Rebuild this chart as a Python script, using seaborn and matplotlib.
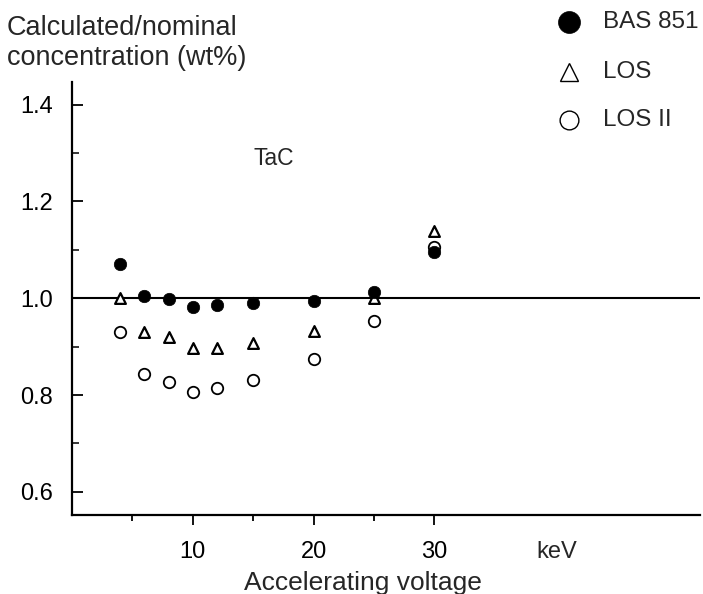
import matplotlib
matplotlib.use("Agg")
import matplotlib.pyplot as plt
import matplotlib.transforms as mtransforms
from matplotlib.lines import Line2D
import seaborn as sns
import pandas as pd

voltage = [4, 6, 8, 10, 12, 15, 20, 25, 30]
bas851 = [1.071, 1.005, 0.999, 0.982, 0.986, 0.990, 0.995, 1.013, 1.095]
los = [1.000, 0.931, 0.920, 0.897, 0.898, 0.907, 0.932, 1.000, 1.140]
los2 = [0.930, 0.844, 0.826, 0.806, 0.815, 0.831, 0.875, 0.952, 1.106]
series_names = ["BAS 851", "LOS", "LOS II"]
x_tick_labels = ["10", "20", "30", "keV"]
y_ticks = [0.6, 0.8, 1.0, 1.2, 1.4]

df = pd.DataFrame({
    "voltage": voltage * 3,
    "ratio": bas851 + los + los2,
    "series": [series_names[0]] * 9 + [series_names[1]] * 9 + [series_names[2]] * 9,
})

sns.set_theme(style="ticks")
plt.rcParams["font.family"] = ["Liberation Sans", "DejaVu Sans"]

fig = plt.figure(figsize=(7.03, 5.94), dpi=100)
ax = fig.add_axes([72 / 703, 1 - 515 / 594, (700 - 72) / 703, (515 - 82) / 594])

styles = {
    "BAS 851": dict(marker="o", s=80, color="black", edgecolor="black", linewidth=0.5),
    "LOS": dict(marker="^", s=60, color="white", edgecolor="black", linewidth=1.6),
    "LOS II": dict(marker="o", s=68, color="white", edgecolor="black", linewidth=1.3),
}
ax.axhline(1.0, color="black", linewidth=1.5, zorder=1)
for name in ["LOS II", "LOS", "BAS 851"]:
    sub = df[df["series"] == name]
    sns.scatterplot(data=sub, x="voltage", y="ratio", ax=ax, legend=False, zorder=3, **styles[name])

ax.set_xlim(0, 52)
ax.set_ylim(0.552, 1.447)
ax.set_xlabel("")
ax.set_ylabel("")
sns.despine(ax=ax)
for sp in ["left", "bottom"]:
    ax.spines[sp].set_linewidth(1.6)
    ax.spines[sp].set_color("black")

ax.set_xticks([10, 20, 30])
ax.set_xticklabels(x_tick_labels[:3])
ax.set_xticks([5, 15, 25], minor=True)
ax.tick_params(axis="x", which="major", direction="out", length=7, width=1.3, pad=12, labelsize=17, colors="black")
ax.tick_params(axis="x", which="minor", direction="out", length=4, width=1.3, colors="black")
ax.set_yticks(y_ticks)
ax.set_yticklabels([f"{v:.1f}" for v in y_ticks])
ax.set_yticks([0.7, 0.9, 1.1, 1.3], minor=True)
ax.tick_params(axis="y", which="major", direction="in", length=8, width=1.3, pad=14, labelsize=17, colors="black")
ax.tick_params(axis="y", which="minor", direction="in", length=5, width=1.3)

trans = mtransforms.blended_transform_factory(ax.transData, fig.transFigure)
ax.text(40.1, 1 - 552 / 594, x_tick_labels[3], transform=trans, ha="center", va="center", fontsize=17)
ax.text(24.1, 1 - 590 / 594, "Accelerating voltage", transform=trans, ha="center", va="baseline", fontsize=19)

fig.text(7 / 703, 1 - 35 / 594, "Calculated/nominal", ha="left", va="baseline", fontsize=19.5)
fig.text(7 / 703, 1 - 65 / 594, "concentration (wt%)", ha="left", va="baseline", fontsize=19.5)
ax.text(16.7, 1.289, "TaC", ha="center", va="center", fontsize=16.5)

# legend
leg_markers = [
    dict(marker="o", markersize=15.8, markerfacecolor="black", markeredgecolor="black", markeredgewidth=0.5),
    dict(marker="^", markersize=13, markerfacecolor="white", markeredgecolor="black", markeredgewidth=1.0),
    dict(marker="o", markersize=13.5, markerfacecolor="white", markeredgecolor="black", markeredgewidth=1.0),
]
leg_rows = [22, 72, 120]
for name, mk, yrow in zip(series_names, leg_markers, leg_rows):
    fig.add_artist(Line2D([569 / 703], [1 - yrow / 594], linestyle="none", transform=fig.transFigure, **mk))
    fig.text(603 / 703, 1 - yrow / 594, name, ha="left", va="center", fontsize=17.5)

fig.savefig("out.png", dpi=100, facecolor="white")
